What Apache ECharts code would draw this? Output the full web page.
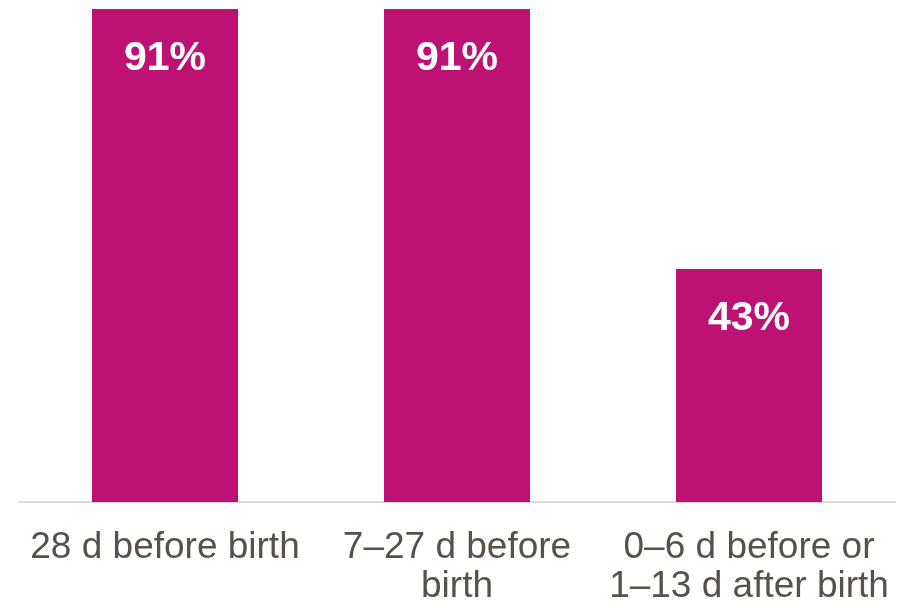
<!DOCTYPE html>
<html>
<head>
<meta charset="utf-8">
<script src="https://cdn.jsdelivr.net/npm/echarts@6/dist/echarts.min.js"></script>
<style>html,body{margin:0;padding:0;background:#fff}#c{width:912px;height:606px}</style>
</head>
<body>
<div id="c"></div>
<script>
const categories = ['28 d before birth', '7\u201327 d before\nbirth', '0\u20136 d before or\n1\u201313 d after birth'];
const values = [91, 91, 43];

const chart = echarts.init(document.getElementById('c'));
chart.setOption({
  animation: false,
  grid: { left: 19, right: 17, top: 9, bottom: 103, containLabel: false },
  xAxis: {
    type: 'category',
    data: categories,
    axisLine: { lineStyle: { color: '#d9d9d9', width: 2 } },
    axisTick: { show: false },
    axisLabel: {
      interval: 0,
      color: '#575148',
      fontFamily: 'Liberation Sans, Arial, sans-serif',
      fontSize: 37,
      lineHeight: 39,
      margin: 26
    }
  },
  yAxis: { type: 'value', min: 0, max: 91, show: false, splitLine: { show: false } },
  series: [{
    type: 'bar',
    data: values,
    barWidth: '50%',
    itemStyle: { color: '#bd1174' },
    label: {
      show: true,
      position: 'insideTop',
      distance: 29,
      formatter: '{c}%',
      color: '#ffffff',
      fontWeight: 'bold',
      fontSize: 41,
      fontFamily: 'Liberation Sans, Arial, sans-serif'
    }
  }]
});
</script>
</body>
</html>
